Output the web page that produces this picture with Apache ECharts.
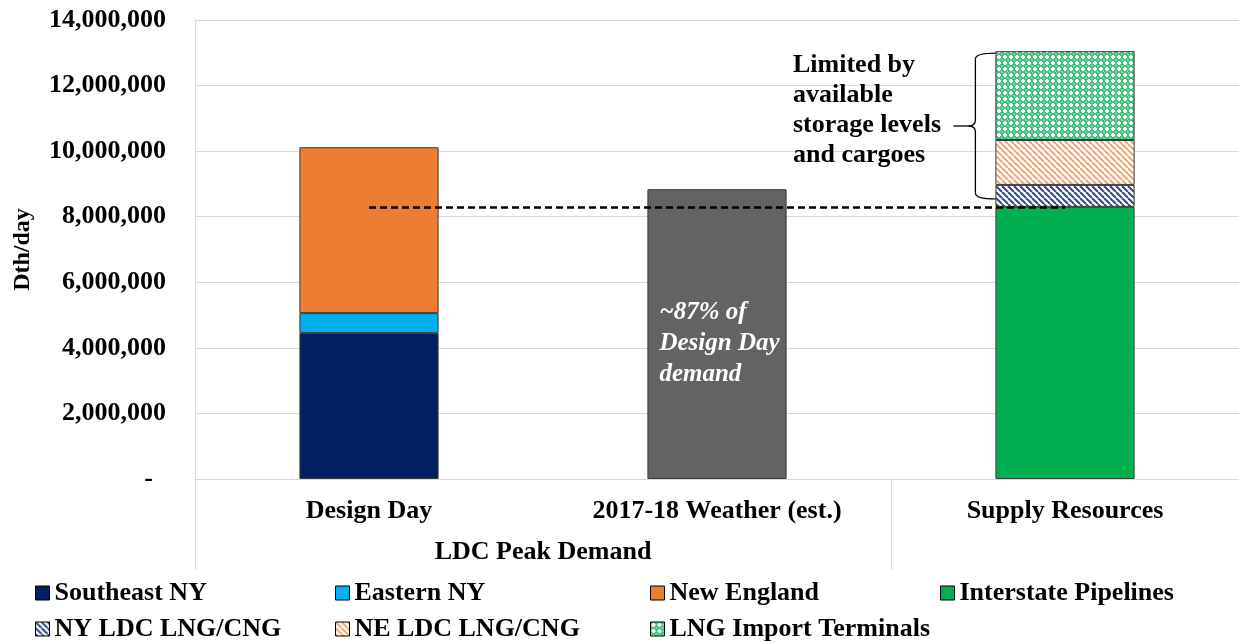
<!DOCTYPE html>
<html>
<head>
<meta charset="utf-8">
<script src="https://cdn.jsdelivr.net/npm/echarts@6/dist/echarts.min.js"></script>
<style>
  html, body { margin: 0; padding: 0; background: #fff; }
  #chart { width: 1239px; height: 643px; }
</style>
</head>
<body>
<div id="chart"></div>
<script>
// Peak-day gas demand vs. supply resources (Dth/day)
const categories = ['Design Day', '2017-18 Weather (est.)', 'Supply Resources'];
const groupLabel = 'LDC Peak Demand';

const southeastNY = [4450000, null, null];
const easternNY = [610000, null, null];
const newEngland = [5060000, null, null];
const weather1718 = [null, 8840000, null];
const interstatePipelines = [null, null, 8300000];
const nyLdcLng = [null, null, 670000];
const neLdcLng = [null, null, 1370000];
const lngImport = [null, null, 2710000];

const yMax = 14000000;
const yStep = 2000000;

const weatherNote = '~87% of\nDesign Day\ndemand';
const storageNote = 'Limited by\navailable\nstorage levels\nand cargoes';

const FONT = 'Liberation Serif, Times New Roman, serif';
const EDGE = '#3a3a3a';

// Hatch fills built as small repeating canvas tiles
function stripeTile(color) {
  const c = document.createElement('canvas');
  c.width = 6; c.height = 6;
  const g = c.getContext('2d');
  g.fillStyle = '#ffffff';
  g.fillRect(0, 0, 6, 6);
  g.strokeStyle = color;
  g.lineWidth = 2;
  [-6, 0, 6].forEach(function (k) {
    g.beginPath();
    g.moveTo(k, 0);
    g.lineTo(k + 6, 6);
    g.stroke();
  });
  return c;
}
function latticeTile() {
  const c = document.createElement('canvas');
  c.width = 6; c.height = 6;
  const g = c.getContext('2d');
  g.fillStyle = '#3fc57d';
  g.fillRect(0, 0, 6, 6);
  g.fillStyle = '#ffffff';
  g.fillRect(2, 1, 2, 4);
  g.fillRect(1, 2, 4, 2);
  g.fillStyle = '#a6e5c2';
  g.fillRect(0, 0, 1, 1);
  g.fillRect(5, 5, 1, 1);
  return c;
}

const fills = {
  southeastNY: '#002060',
  easternNY: '#00B0F0',
  newEngland: '#ED7D31',
  weather: '#636363',
  pipelines: '#00B050',
  nyLdc: { image: stripeTile('#2f4a8a'), repeat: 'repeat' },
  neLdc: { image: stripeTile('#f4a56c'), repeat: 'repeat' },
  lng: { image: latticeTile(), repeat: 'repeat' }
};

function barSeries(name, data, color, extra) {
  return Object.assign({
    name: name,
    type: 'bar',
    stack: 'total',
    barWidth: '40%',
    data: data,
    itemStyle: { color: color, borderColor: EDGE, borderWidth: 1 },
    emphasis: { disabled: true }
  }, extra || {});
}

const legendBase = {
  orient: 'vertical',
  top: 579,
  height: 64,
  padding: 0,
  icon: 'rect',
  itemWidth: 14,
  itemHeight: 14,
  itemGap: 8,
  itemStyle: { borderColor: '#000', borderWidth: 1 },
  textStyle: { fontFamily: FONT, fontWeight: 'bold', fontSize: 26, color: '#000', lineHeight: 28 },
  selectedMode: false
};

const chart = echarts.init(document.getElementById('chart'), null, { renderer: 'canvas' });

const option = {
  animation: false,
  backgroundColor: '#fff',
  textStyle: { fontFamily: FONT },
  grid: [
    { left: 195, right: 0, top: 20, bottom: 164 },
    { left: 195, right: 0, top: 20, bottom: 164 }
  ],
  legend: [
    Object.assign({}, legendBase, { left: 35, data: ['Southeast NY', 'NY LDC LNG/CNG'] }),
    Object.assign({}, legendBase, { left: 335, data: ['Eastern NY', 'NE LDC LNG/CNG'] }),
    Object.assign({}, legendBase, { left: 650, data: ['New England', 'LNG Import Terminals'] }),
    Object.assign({}, legendBase, { left: 940, data: ['Interstate Pipelines'] })
  ],
  xAxis: [
    {
      type: 'category',
      gridIndex: 0,
      data: categories,
      axisLine: { show: true, lineStyle: { color: '#d9d9d9', width: 1 } },
      axisTick: { show: false },
      axisLabel: { fontFamily: FONT, fontWeight: 'bold', fontSize: 26, color: '#000', margin: 19 }
    },
    {
      // Second tier of the category axis: group label and separators
      type: 'value',
      gridIndex: 1,
      min: 0,
      max: 3,
      position: 'bottom',
      axisLine: { show: false },
      splitLine: { show: false },
      axisTick: { show: true, customValues: [0, 2], length: 91, lineStyle: { color: '#d9d9d9' } },
      axisLabel: {
        customValues: [1],
        formatter: function () { return groupLabel; },
        fontFamily: FONT, fontWeight: 'bold', fontSize: 26, color: '#000', margin: 60
      }
    }
  ],
  yAxis: [
    {
      type: 'value',
      gridIndex: 0,
      min: 0,
      max: yMax,
      interval: yStep,
      name: 'Dth/day',
      nameLocation: 'middle',
      nameGap: 160,
      nameTextStyle: { fontFamily: FONT, fontWeight: 'bold', fontSize: 24, color: '#000' },
      axisLine: { show: true, lineStyle: { color: '#d9d9d9' } },
      axisTick: { show: false },
      splitLine: { show: true, lineStyle: { color: '#d9d9d9', width: 1 } },
      axisLabel: {
        fontFamily: FONT, fontWeight: 'bold', fontSize: 26, color: '#000', margin: 29,
        formatter: function (v) { return v === 0 ? '-  ' : v.toLocaleString('en-US'); }
      }
    },
    { type: 'value', gridIndex: 1, show: false, min: 0, max: 1 }
  ],
  series: [
    barSeries('Southeast NY', southeastNY, fills.southeastNY),
    barSeries('Eastern NY', easternNY, fills.easternNY),
    barSeries('New England', newEngland, fills.newEngland),
    barSeries('2017-18 Weather', weather1718, fills.weather, {
      label: {
        show: true,
        position: [12, 108],
        formatter: weatherNote,
        color: '#fff',
        fontFamily: FONT,
        fontStyle: 'italic',
        fontWeight: 'bold',
        fontSize: 25,
        lineHeight: 31
      }
    }),
    barSeries('Interstate Pipelines', interstatePipelines, fills.pipelines),
    barSeries('NY LDC LNG/CNG', nyLdcLng, fills.nyLdc),
    barSeries('NE LDC LNG/CNG', neLdcLng, fills.neLdc),
    barSeries('LNG Import Terminals', lngImport, fills.lng, {
      markLine: {
        silent: true,
        symbol: 'none',
        label: { show: false },
        lineStyle: { color: '#000', width: 2.5, type: [7, 4] },
        data: [[
          { coord: [categories[0], interstatePipelines[2]] },
          { coord: [categories[2], interstatePipelines[2]] }
        ]]
      }
    })
  ]
};

chart.setOption(option);

// Curly brace beside the storage-limited resources, plus its note
function drawBrace() {
  const base = interstatePipelines[2];
  const topVal = base + nyLdcLng[2] + neLdcLng[2] + lngImport[2];
  const p0 = chart.convertToPixel({ xAxisIndex: 0, yAxisIndex: 0 }, [categories[1], 0]);
  const pTop = chart.convertToPixel({ xAxisIndex: 0, yAxisIndex: 0 }, [categories[2], topVal]);
  const pBot = chart.convertToPixel({ xAxisIndex: 0, yAxisIndex: 0 }, [categories[2], base]);
  const band = pTop[0] - p0[0];
  const xr = pTop[0] - band * 0.2;
  const xv = xr - 20;
  const xt = xv - 7;
  const yTop = pTop[1] + 2;
  const yBot = pBot[1] - 8;
  const yMid = (yTop + yBot) / 2;
  const r = 6;
  const ls = { stroke: '#000', lineWidth: 1.3, fill: null };
  const els = [
    { type: 'bezierCurve', shape: { x1: xr, y1: yTop, x2: xv, y2: yTop + r, cpx1: xv, cpy1: yTop }, style: ls },
    { type: 'line', shape: { x1: xv, y1: yTop + r, x2: xv, y2: yMid - r }, style: ls },
    { type: 'bezierCurve', shape: { x1: xv, y1: yMid - r, x2: xt, y2: yMid, cpx1: xv, cpy1: yMid }, style: ls },
    { type: 'bezierCurve', shape: { x1: xt, y1: yMid, x2: xv, y2: yMid + r, cpx1: xv, cpy1: yMid }, style: ls },
    { type: 'line', shape: { x1: xv, y1: yMid + r, x2: xv, y2: yBot - r }, style: ls },
    { type: 'bezierCurve', shape: { x1: xv, y1: yBot - r, x2: xr, y2: yBot, cpx1: xv, cpy1: yBot }, style: ls },
    { type: 'line', shape: { x1: xt - 15, y1: yMid, x2: xt, y2: yMid }, style: ls },
    {
      type: 'text',
      x: 793,
      y: 50,
      style: {
        text: storageNote,
        fill: '#000',
        font: 'bold 26px ' + FONT,
        lineHeight: 30
      }
    }
  ];
  chart.setOption({ graphic: { elements: els.map(function (e) { return Object.assign({ silent: true, z: 10 }, e); }) } });
}
drawBrace();
</script>
</body>
</html>
